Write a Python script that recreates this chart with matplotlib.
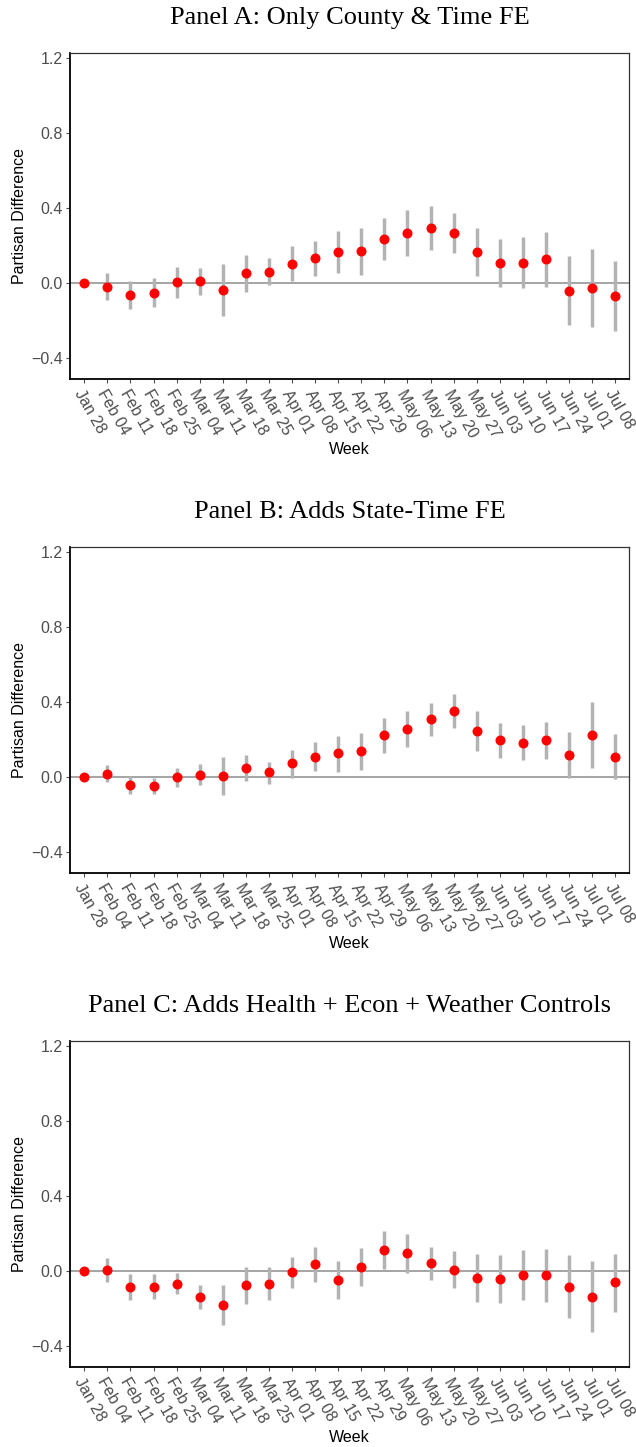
import numpy as np
import matplotlib
matplotlib.use("Agg")
import matplotlib.pyplot as plt

weeks = ["Jan 28", "Feb 04", "Feb 11", "Feb 18", "Feb 25", "Mar 04", "Mar 11",
         "Mar 18", "Mar 25", "Apr 01", "Apr 08", "Apr 15", "Apr 22", "Apr 29",
         "May 06", "May 13", "May 20", "May 27", "Jun 03", "Jun 10", "Jun 17",
         "Jun 24", "Jul 01", "Jul 08"]

# Panel A: Only County & Time FE
est_a = [0.0, -0.019, -0.064, -0.053, 0.004, 0.009, -0.035, 0.053, 0.062, 0.104,
         0.133, 0.166, 0.170, 0.235, 0.267, 0.292, 0.269, 0.166, 0.108, 0.110,
         0.129, -0.039, -0.027, -0.067]
hi_a = [0.0, 0.053, 0.014, 0.028, 0.088, 0.081, 0.103, 0.152, 0.133, 0.196,
        0.225, 0.280, 0.294, 0.349, 0.389, 0.411, 0.375, 0.294, 0.235, 0.246,
        0.274, 0.143, 0.184, 0.120]
lo_a = [0.0, -0.092, -0.138, -0.129, -0.081, -0.065, -0.173, -0.046, -0.012, 0.009,
        0.039, 0.053, 0.042, 0.122, 0.145, 0.177, 0.163, 0.037, -0.021, -0.028,
        -0.019, -0.223, -0.235, -0.253]

# Panel B: Adds State-Time FE
est_b = [0.0, 0.018, -0.041, -0.048, 0.0, 0.012, 0.005, 0.050, 0.025, 0.073,
         0.110, 0.126, 0.138, 0.223, 0.255, 0.310, 0.354, 0.246, 0.198, 0.184,
         0.196, 0.120, 0.223, 0.110]
hi_b = [0.0, 0.065, 0.005, -0.005, 0.050, 0.071, 0.106, 0.120, 0.083, 0.147,
        0.186, 0.219, 0.237, 0.313, 0.350, 0.396, 0.444, 0.350, 0.290, 0.276,
        0.292, 0.241, 0.398, 0.228]
lo_b = [0.0, -0.028, -0.088, -0.090, -0.050, -0.044, -0.096, -0.023, -0.034, -0.002,
        0.032, 0.030, 0.039, 0.131, 0.158, 0.221, 0.264, 0.140, 0.104, 0.094,
        0.099, -0.002, 0.050, -0.011]

# Panel C: Adds Health + Econ + Weather Controls
est_c = [0.0, 0.005, -0.085, -0.084, -0.068, -0.135, -0.180, -0.076, -0.066, -0.005,
         0.037, -0.046, 0.023, 0.114, 0.096, 0.041, 0.007, -0.034, -0.041, -0.020,
         -0.023, -0.082, -0.137, -0.060]
hi_c = [0.0, 0.071, -0.016, -0.016, -0.011, -0.071, -0.073, 0.023, 0.021, 0.078,
        0.130, 0.052, 0.123, 0.215, 0.199, 0.128, 0.108, 0.094, 0.084, 0.112,
        0.116, 0.084, 0.052, 0.094]
lo_c = [0.0, -0.060, -0.155, -0.148, -0.123, -0.199, -0.286, -0.176, -0.151, -0.089,
        -0.055, -0.146, -0.078, 0.012, -0.009, -0.048, -0.092, -0.162, -0.167, -0.151,
        -0.164, -0.247, -0.324, -0.215]

titles = ["Panel A: Only County & Time FE",
          "Panel B: Adds State-Time FE",
          "Panel C: Adds Health + Econ + Weather Controls"]
panels = [(est_a, lo_a, hi_a), (est_b, lo_b, hi_b), (est_c, lo_c, hi_c)]

W, H = 636, 1447
fig = plt.figure(figsize=(W / 100, H / 100), dpi=100)

# axes boxes in pixels (left, top, right, bottom)
boxes = [(70, 53, 629, 379), (70, 547, 629, 873), (70, 1041, 629, 1367)]

x = np.arange(len(weeks))
for (l, t, r, b), title, (est, lo, hi) in zip(boxes, titles, panels):
    ax = fig.add_axes([l / W, 1 - b / H, (r - l) / W, (b - t) / H])
    ax.axhline(0, color="#8c8c8c", lw=1.1, zorder=1)
    ax.vlines(x, lo, hi, color="#b3b3b3", lw=2.5, zorder=2)
    ax.plot(x, est, "o", color="#ff0000", ms=6.2, zorder=3)
    ax.set_xlim(-0.62, 23.6)
    ax.set_ylim(-0.51, 1.225)
    ax.set_yticks([-0.4, 0.0, 0.4, 0.8, 1.2])
    ax.set_yticklabels(["\u22120.4", "0.0", "0.4", "0.8", "1.2"])
    ax.set_xticks(x)
    ax.set_xticklabels(weeks, rotation=-60, ha="left", va="top",
                       rotation_mode="anchor")
    ax.tick_params(axis="both", colors="#4d4d4d", labelsize=11.5, length=3,
                   width=0.8, labelcolor="#4d4d4d")
    ax.tick_params(axis="x", pad=3)
    ax.tick_params(axis="y", pad=2)
    for lab in ax.get_xticklabels() + ax.get_yticklabels():
        lab.set_family("Liberation Sans")
    for side in ["left", "bottom"]:
        ax.spines[side].set_linewidth(1.3)
        ax.spines[side].set_color("black")
    for side in ["top", "right"]:
        ax.spines[side].set_linewidth(0.9)
        ax.spines[side].set_color("#333333")
    ax.set_ylabel("Partisan Difference", family="Liberation Sans", fontsize=11.5,
                  labelpad=3)
    ax.set_xlabel("Week", family="Liberation Sans", fontsize=11.5, labelpad=1)
    ax.set_title(title, family="Liberation Serif", fontsize=19, pad=21)

fig.savefig("out.png", dpi=100)
